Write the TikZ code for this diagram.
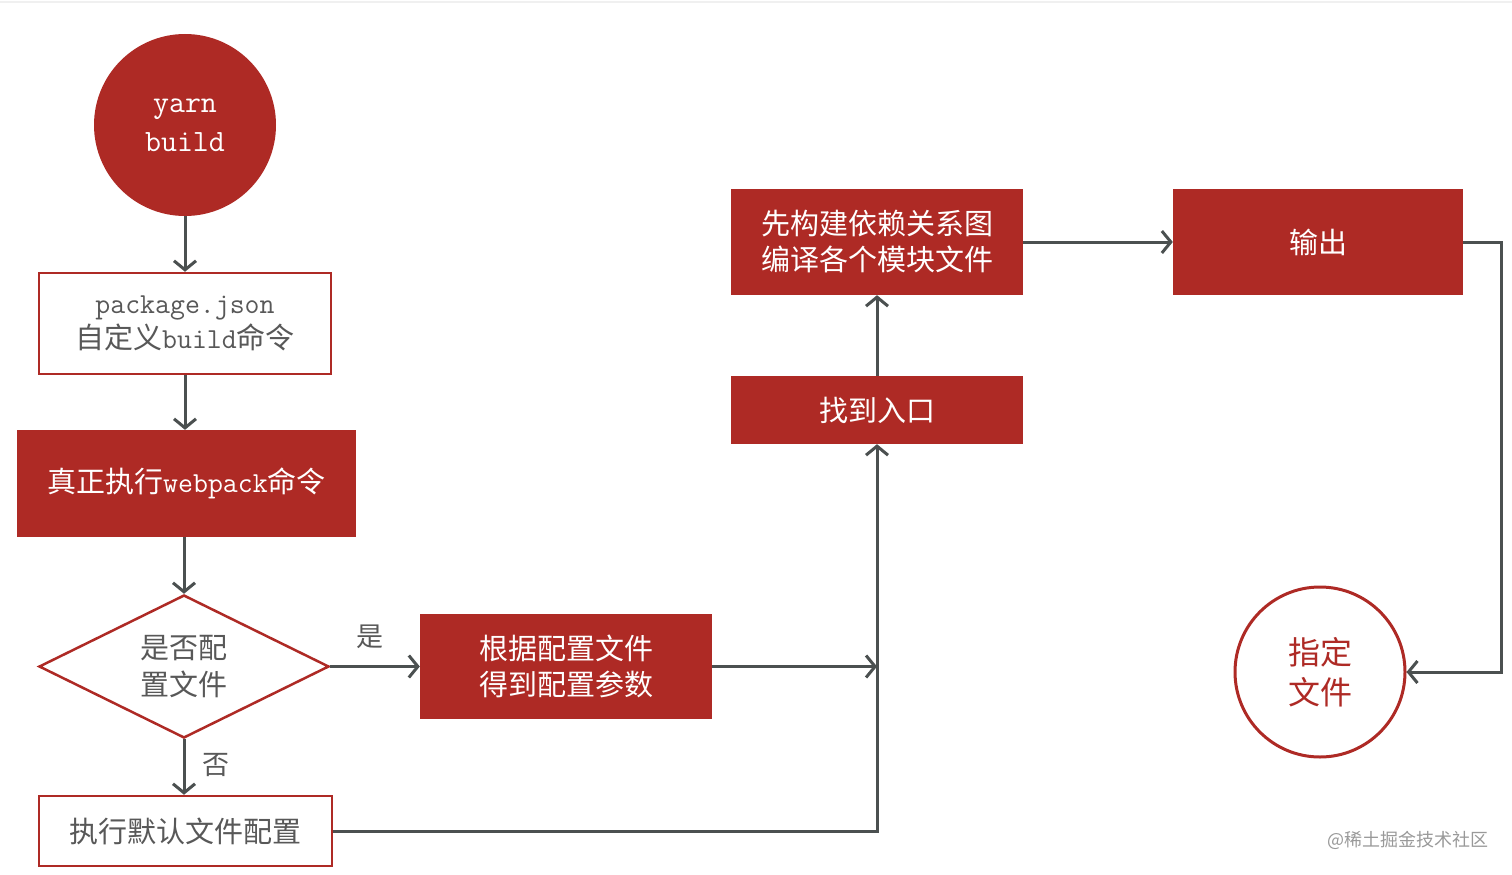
\documentclass[tikz,border=0pt]{standalone}
\usepackage{fontspec}
\newfontfamily\cjk{Noto Sans CJK SC}
\usetikzlibrary{arrows.meta,shapes.geometric}
\definecolor{myred}{RGB}{174,42,37}
\definecolor{arrowgray}{RGB}{75,80,80}
\definecolor{txtgray}{RGB}{88,88,88}
\begin{document}
\begin{tikzpicture}[x=1pt,y=-1pt,
  redbox/.style={rectangle,fill=myred,text=white,inner sep=0pt,align=center,
    font=\cjk\fontsize{29}{36}\selectfont},
  whitebox/.style={rectangle,draw=myred,line width=2.5pt,fill=white,text=txtgray,
    inner sep=0pt,align=center,font=\cjk\fontsize{29}{35}\selectfont},
  conn/.style={draw=arrowgray,line width=3pt,-{Straight Barb[length=9pt,width=22pt]}},
  lbl/.style={text=txtgray,font=\cjk\fontsize{27}{30}\selectfont,inner sep=0pt}
]
\useasboundingbox (0,0) rectangle (1512,875);
\draw[black!6,line width=2pt] (0,2) -- (1512,2);

\node[circle,fill=myred,minimum size=182pt,inner sep=0pt,text=white,align=center,
  font=\ttfamily\fontsize{31}{39}\selectfont] (yarn) at (185,125) {yarn\\build};

\node[whitebox,minimum width=292pt,minimum height=101pt] (pkg) at (185,323.5)
  {{\ttfamily package.json}\\自定义{\ttfamily build}命令};

\node[redbox,minimum width=339pt,minimum height=107pt] (run) at (186.5,483.5)
  {真正执行{\ttfamily webpack}命令};

\node[diamond,aspect=2,draw=myred,line width=2.5pt,fill=white,text=txtgray,inner sep=0pt,
  minimum width=290pt,minimum height=143pt,align=center,
  font=\cjk\fontsize{29}{37}\selectfont] (dia) at (184,666.5) {是否配\\置文件};

\node[whitebox,minimum width=293pt,minimum height=70pt] (def) at (185.5,831)
  {执行默认文件配置};

\node[redbox,minimum width=292pt,minimum height=105pt] (cfg) at (566,666.5)
  {根据配置文件\\得到配置参数};

\node[redbox,minimum width=292pt,minimum height=68pt] (entry) at (877,410)
  {找到入口};

\node[redbox,minimum width=292pt,minimum height=106pt] (build) at (877,242)
  {先构建依赖关系图\\编译各个模块文件};

\node[redbox,minimum width=290pt,minimum height=106pt] (out) at (1318,242)
  {输出};

\node[circle,draw=myred,line width=3pt,fill=white,minimum size=170pt,inner sep=0pt,
  text=myred,align=center,font=\cjk\fontsize{32}{40}\selectfont] (spec) at (1320,672)
  {指定\\文件};

\node[text=black!40,font=\cjk\fontsize{18}{20}\selectfont,inner sep=0pt] (wm) at (1408,840)
  {@稀土掘金技术社区};

\node[lbl] (yes) at (370,637) {是};
\node[lbl] (no) at (216,765) {否};

\draw[conn] (yarn.south) -- (pkg.north);
\draw[conn] (pkg.south) -- (run.north -| pkg.south);
\draw[conn] (run.south -| dia.north) -- (dia.north);
\draw[conn] (dia.south) -- (def.north -| dia.south);
\draw[conn] (dia.east) -- (cfg.west);
\coordinate (j1) at (entry.south |- cfg.east);
\draw[conn] (cfg.east) -- (j1);
\draw[conn] (def.east) -| (entry.south);
\draw[conn] (entry.north) -- (build.south);
\draw[conn] (build.east) -- (out.west);
\coordinate (bend) at (1501,242);
\draw[conn] (out.east) -- (bend) |- (spec.east);
\end{tikzpicture}
\end{document}
